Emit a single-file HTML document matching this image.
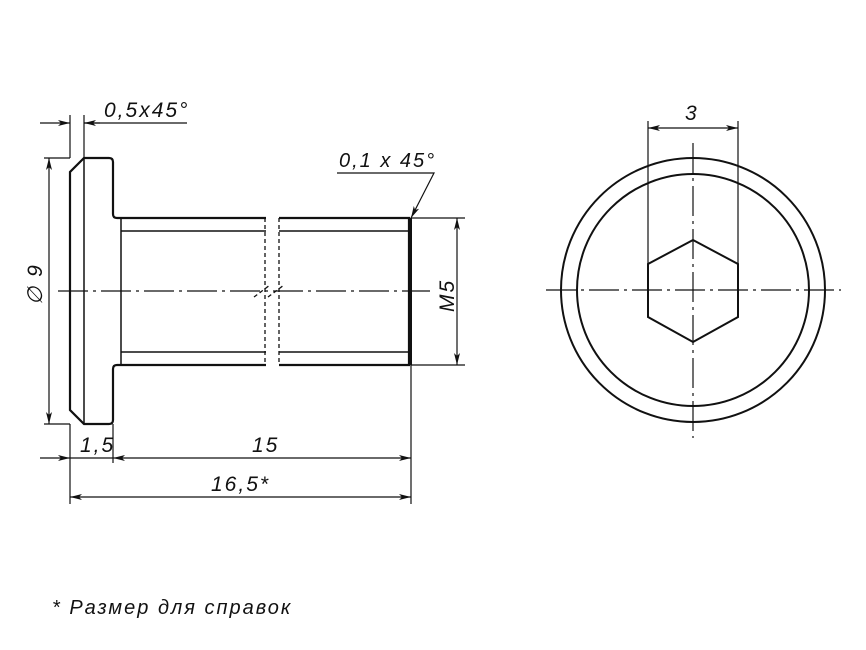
<!DOCTYPE html>
<html><head><meta charset="utf-8"><style>
html,body{margin:0;padding:0;background:#fff;}
svg{display:block;}
text{font-family:"Liberation Sans",sans-serif;font-style:italic;fill:#111;letter-spacing:2px;}
</style></head><body>
<svg width="866" height="650" viewBox="0 0 866 650" xmlns="http://www.w3.org/2000/svg">
<defs>
<marker id="a" viewBox="0 0 12 6" refX="12" refY="3" markerWidth="12" markerHeight="6" orient="auto-start-reverse" markerUnits="userSpaceOnUse">
<path d="M0,0 L12,3 L0,6 L3,3 Z" fill="#111"/></marker>
</defs>
<g stroke="#111" fill="none">
<path d="M84,158 L109,158 Q113,158 113,162 L113,214 Q113,218 117,218 L409,218 L409,365 L117,365 Q113,365 113,369 L113,420 Q113,424 109,424 L84,424 L70,410 L70,172 Z" stroke-width="2.2"/>
<line x1="84" y1="158" x2="84" y2="424" stroke-width="1.5"/>
<line x1="121" y1="218" x2="121" y2="365" stroke-width="1.5"/>
<line x1="121" y1="231" x2="409" y2="231" stroke-width="1.5"/>
<line x1="121" y1="352" x2="409" y2="352" stroke-width="1.5"/>
<line x1="411" y1="218" x2="411" y2="365" stroke-width="2"/>
</g>
<rect x="266" y="214" width="13" height="156" fill="#fff"/>
<g stroke="#111" fill="none" stroke-width="1.3" stroke-dasharray="4,3">
<line x1="265" y1="218" x2="265" y2="365"/>
<line x1="279" y1="218" x2="279" y2="365"/>
<line x1="254" y1="297" x2="270" y2="285"/>
<line x1="268" y1="297" x2="284" y2="285"/>
</g>
<g stroke="#111" stroke-width="1.2" fill="none">
<line x1="58" y1="291" x2="430" y2="291" stroke-dasharray="30,5,3,5"/>
<line x1="70" y1="115" x2="70" y2="158"/>
<line x1="84" y1="115" x2="84" y2="158"/>
<line x1="44" y1="158" x2="70" y2="158"/>
<line x1="44" y1="424" x2="70" y2="424"/>
<line x1="70" y1="424" x2="70" y2="504"/>
<line x1="113" y1="424" x2="113" y2="463"/>
<line x1="411" y1="365" x2="411" y2="504"/>
<line x1="411" y1="218" x2="465" y2="218"/>
<line x1="411" y1="365" x2="465" y2="365"/>
<line x1="40" y1="123" x2="70" y2="123" marker-end="url(#a)"/>
<line x1="100" y1="123" x2="84" y2="123" marker-end="url(#a)"/>
<line x1="84" y1="123" x2="187" y2="123"/>
<line x1="49" y1="158" x2="49" y2="424" marker-start="url(#a)" marker-end="url(#a)"/>
<line x1="40" y1="458" x2="70" y2="458" marker-end="url(#a)"/>
<line x1="70" y1="458" x2="113" y2="458"/>
<line x1="113" y1="458" x2="411" y2="458" marker-start="url(#a)" marker-end="url(#a)"/>
<line x1="70" y1="497" x2="411" y2="497" marker-start="url(#a)" marker-end="url(#a)"/>
<line x1="457" y1="218" x2="457" y2="365" marker-start="url(#a)" marker-end="url(#a)"/>
<polyline points="337,173 434,173 411,218" marker-end="url(#a)"/>
<circle cx="693" cy="290" r="132" stroke-width="2"/>
<circle cx="693" cy="290" r="116" stroke-width="2"/>
<polygon points="693,240 738,264 738,317 693,342 648,317 648,264" stroke-width="2"/>
<line x1="546" y1="290" x2="841" y2="290" stroke-dasharray="30,5,3,5"/>
<line x1="693" y1="143" x2="693" y2="438" stroke-dasharray="30,5,3,5"/>
<line x1="648" y1="121" x2="648" y2="264"/>
<line x1="738" y1="121" x2="738" y2="264"/>
<line x1="648" y1="128" x2="738" y2="128" marker-start="url(#a)" marker-end="url(#a)"/>
</g>
<text x="104" y="117" font-size="21" letter-spacing="2.5">0,5x45°</text>
<text x="339" y="167" font-size="20" letter-spacing="1.5">0,1 x 45°</text>
<text x="80" y="452" font-size="21">1,5</text>
<text x="252" y="452" font-size="21">15</text>
<text x="211" y="491" font-size="21">16,5*</text>
<text x="685" y="120" font-size="21">3</text>
<text font-size="21" transform="translate(454,312) rotate(-90)">M5</text>
<text font-size="21" transform="translate(42,305) rotate(-90)">∅ 9</text>
<text x="52" y="614" font-size="20" letter-spacing="2.6">* Размер для справок</text>
</svg>
</body></html>
